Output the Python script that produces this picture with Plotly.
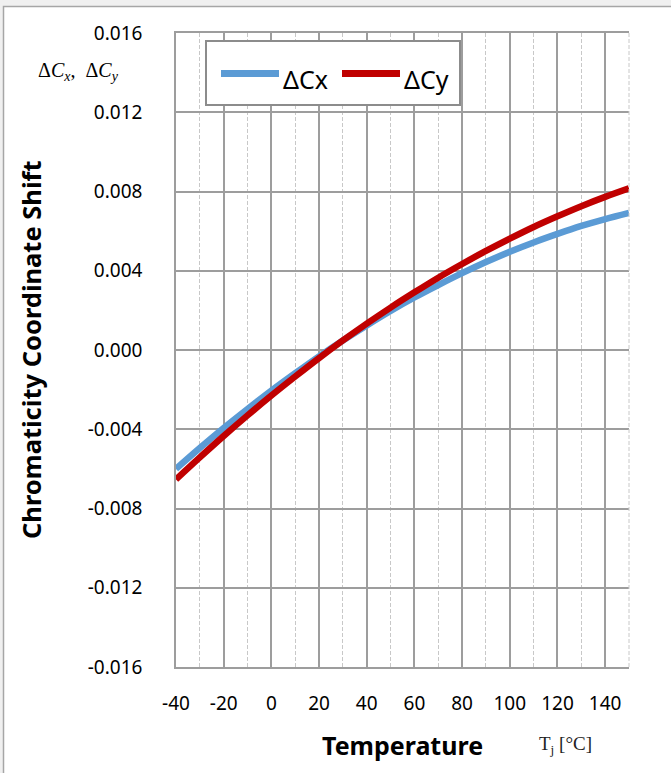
import plotly.graph_objects as go

# ---- data ----
temperature = [-40, -30, -20, -10, 0, 10, 20, 30, 40, 50, 60, 70, 80, 90, 100, 110, 120, 130, 140, 150]
delta_cx = [-0.00600, -0.00495, -0.00394, -0.00298, -0.00205, -0.00117, -0.00032, 0.00048, 0.00124, 0.00197,
            0.00265, 0.00328, 0.00388, 0.00444, 0.00496, 0.00543, 0.00586, 0.00626, 0.00661, 0.00692]
delta_cy = [-0.00653, -0.00542, -0.00434, -0.00330, -0.00230, -0.00134, -0.00041, 0.00048, 0.00133, 0.00214,
            0.00291, 0.00365, 0.00434, 0.00500, 0.00562, 0.00621, 0.00675, 0.00726, 0.00773, 0.00816]
x_tick_vals = [-40, -20, 0, 20, 40, 60, 80, 100, 120, 140]
x_tick_text = ["-40", "-20", "0", "20", "40", "60", "80", "100", "120", "140"]
y_tick_vals = [-0.016, -0.012, -0.008, -0.004, 0.0, 0.004, 0.008, 0.012, 0.016]
y_tick_text = ["-0.016", "-0.012", "-0.008", "-0.004", "0.000", "0.004", "0.008", "0.012", "0.016"]
series_names = ["ΔCx", "ΔCy"]
series_colors = ["#5B9BD5", "#C00000"]

W, H = 671, 773
L, R, T, B = 176, 629, 33, 667  # plot area in pixels
PW, PH = R - L, B - T


def px(x):
    return (x - L) / PW


def py(y):
    return (B - y) / PH


FONT = "Noto Sans, Open Sans, sans-serif"
GRID = "#9d9d9d"

fig = go.Figure()
for name, ys, col in zip(series_names, [delta_cx, delta_cy], series_colors):
    fig.add_trace(go.Scatter(x=temperature, y=ys, mode="lines", name=name,
                             line=dict(color=col, width=6.5, shape="spline", smoothing=1.0),
                             showlegend=False))

shapes = []
# outer frame
shapes.append(dict(type="rect", xref="paper", yref="paper", layer="below",
                   x0=px(3.5), x1=px(700), y0=py(6.5), y1=py(800),
                   fillcolor="white", line=dict(color="#a6a6a6", width=1.5)))
# right dashed edge
shapes.append(dict(type="line", xref="paper", yref="paper", x0=1, x1=1, y0=0, y1=1,
                   line=dict(color="#c8c8c8", width=1, dash="4px,2px")))
# legend box
shapes.append(dict(type="rect", xref="paper", yref="paper",
                   x0=px(206), x1=px(460), y0=py(41), y1=py(105),
                   fillcolor="white", line=dict(color="#8c8c8c", width=2)))
# legend lines
leg_lines = [(221, 279), (342, 400)]
for (a, b), col in zip(leg_lines, series_colors):
    shapes.append(dict(type="path", xref="paper", yref="paper",
                       path=f"M {px(a)} {py(73.5)} L {px(b)} {py(73.5)}",
                       line=dict(color=col, width=7)))

annotations = []
leg_text_x = [281, 402]
for name, xx in zip(series_names, leg_text_x):
    annotations.append(dict(text=name, xref="paper", yref="paper", x=px(xx), y=py(79),
                            xanchor="left", yanchor="middle", showarrow=False,
                            font=dict(family=FONT, size=25, color="black")))
annotations.append(dict(text="Δ<i>C</i><sub><i>x</i></sub>,  Δ<i>C</i><sub><i>y</i></sub>",
                        xref="paper", yref="paper", x=px(36), y=py(72),
                        xanchor="left", yanchor="middle", showarrow=False,
                        font=dict(family="Liberation Serif, serif", size=20, color="black")))
annotations.append(dict(text="<b>Chromaticity Coordinate Shift</b>", textangle=-90,
                        xref="paper", yref="paper", x=px(31), y=py(350),
                        xanchor="center", yanchor="middle", showarrow=False,
                        font=dict(family=FONT, size=25.5, color="black")))
annotations.append(dict(text="<b>Temperature</b>",
                        xref="paper", yref="paper", x=px(402), y=py(745),
                        xanchor="center", yanchor="middle", showarrow=False,
                        font=dict(family=FONT, size=25, color="black")))
annotations.append(dict(text="T<sub>j</sub> [°C]",
                        xref="paper", yref="paper", x=px(537), y=py(745),
                        xanchor="left", yanchor="middle", showarrow=False,
                        font=dict(family="Liberation Serif, serif", size=19, color="#222222")))

fig.update_layout(
    width=W, height=H,
    margin=dict(l=L, r=W - R, t=T, b=H - B, pad=0),
    paper_bgcolor="#f0f0f0",
    plot_bgcolor="rgba(0,0,0,0)",
    shapes=shapes,
    annotations=annotations,
    font=dict(family=FONT, size=19, color="black"),
    xaxis=dict(range=[-40, 150], tickvals=x_tick_vals, ticktext=x_tick_text, showgrid=True,
               gridcolor=GRID, gridwidth=1.5, showline=True, linecolor=GRID, linewidth=1.5,
               mirror=True, ticks="", zeroline=False, ticklabelstandoff=18,
               tickfont=dict(family=FONT, size=19, color="black"),
               minor=dict(dtick=10, tick0=-30, showgrid=True, gridcolor="#c8c8c8",
                          gridwidth=1, griddash="4px,2px", ticks="")),
    yaxis=dict(range=[-0.016, 0.016], tickvals=y_tick_vals, ticktext=y_tick_text,
               showgrid=True, gridcolor=GRID, gridwidth=1.5, showline=True, linecolor=GRID,
               linewidth=1.5, ticks="", zeroline=False, ticklabelstandoff=28,
               tickfont=dict(family=FONT, size=19, color="black")),
)

fig.write_html("out.html", config={"displayModeBar": False},
               post_script="document.body.style.margin='0';")
